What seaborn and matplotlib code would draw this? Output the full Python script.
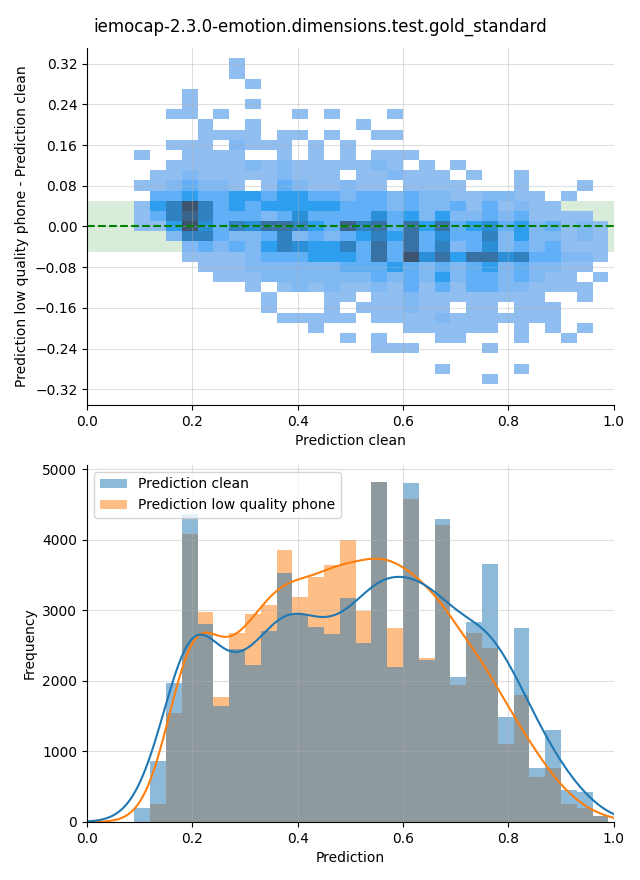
import numpy as np
import pandas as pd
import matplotlib
matplotlib.use("Agg")
import matplotlib.pyplot as plt
import seaborn as sns

title = "iemocap-2.3.0-emotion.dimensions.test.gold_standard"

# common prediction bins
bin_start, bin_width, n_bins = 0.09, 0.03, 30

# bottom panel: frequency per prediction bin
clean_counts = [199, 865, 1972, 4369, 2809, 1645, 2454, 2227, 2709, 3532,
                2950, 2766, 2667, 3177, 2539, 4823, 2199, 4809, 2298, 4298,
                2057, 2837, 3660, 1489, 2752, 766, 1305, 454, 426, 90]
phone_counts = [0, 255, 1546, 4085, 2979, 1773, 2681, 2950, 3078, 3858,
                3191, 3475, 3645, 4000, 2993, 4815, 2752, 4582, 2326, 4213,
                1943, 2681, 2468, 1106, 1801, 638, 766, 255, 199, 80]
series_names = ["Prediction clean", "Prediction low quality phone"]

# top panel: density level (0 = empty .. 9 = densest) per cell,
# rows from the highest difference bin down to the lowest,
# columns follow the prediction bins above
diff_start, diff_width = -0.3095, 0.02
diff_grid = [
    "000000100000000000000000000000",
    "000000100000000000000000000000",
    "000000010000000000000000000000",
    "000100000000000000000000000000",
    "000100010000000000000000000000",
    "001101000010100010000000000000",
    "000010010000001000000000000000",
    "000011110110100110000000000000",
    "001110211101010000000000000000",
    "100111100101010111000000000000",
    "001111121211111210101000000000",
    "011211111211101121110100100000",
    "112322101321121101111000100010",
    "033433443443323323221122110100",
    "146963434444433323223131211000",
    "136863332353333534242232311110",
    "114953657764386737473453423121",
    "002663223623234647353362422121",
    "000232324654463737362352323111",
    "000111123334443739574775633221",
    "000011122222233343232342322110",
    "000001112222222323242332321101",
    "000000010121211213131332211110",
    "000000001000110112111111110010",
    "000000001000101112110110111000",
    "000000000111110111121111111000",
    "000000000001000001111110101010",
    "000000000000010100011000100100",
    "000000000000000111000010000000",
    "000000000000000000000000000000",
    "000000000000000000010000100000",
    "000000000000000000000010000000",
]
# relative count for each density level
level_counts = [0, 1, 1.5, 2.3, 3.6, 4.8, 5.9, 7.1, 8.2, 9.5]

x_edges = [bin_start + bin_width * k for k in range(n_bins + 1)]
n_rows = len(diff_grid)
y_edges = [diff_start + diff_width * k for k in range(n_rows + 1)]

cx, cy, cw = [], [], []
for i, row in enumerate(diff_grid):
    r = n_rows - 1 - i
    for c, ch in enumerate(row):
        if ch != "0":
            cx.append(bin_start + (c + 0.5) * bin_width)
            cy.append(diff_start + (r + 0.5) * diff_width)
            cw.append(level_counts[int(ch)])

centers = bin_start + (np.arange(n_bins) + 0.5) * bin_width
df = pd.DataFrame({
    "Prediction": np.concatenate([centers, centers]),
    "count": clean_counts + phone_counts,
    "series": [series_names[0]] * n_bins + [series_names[1]] * n_bins,
})

fig, (ax1, ax2) = plt.subplots(2, 1, figsize=(6.4, 8.8), dpi=100)
fig.subplots_adjust(left=0.136, right=0.959, top=0.9455, bottom=0.066, hspace=0.168)

# ---- top panel
ax1.axhspan(-0.05, 0.05, color="green", alpha=0.15, lw=0)
sns.histplot(x=cx, y=cy, weights=cw, bins=[x_edges, y_edges], ax=ax1)
ax1.axhline(0, color="green", linestyle="--", lw=1.5)
ax1.set_xlim(0, 1)
ax1.set_ylim(-0.351, 0.351)
ax1.set_yticks(np.linspace(-0.32, 0.32, 9))
ax1.set_xlabel("Prediction clean")
ax1.set_ylabel("Prediction low quality phone - Prediction clean")
ax1.grid(True, alpha=0.4)

# ---- bottom panel
sns.histplot(data=df, x="Prediction", weights="count", hue="series",
             hue_order=series_names, bins=x_edges, kde=True,
             kde_kws=dict(bw_adjust=0.4, cut=3), linewidth=0, ax=ax2)
ax2.set_xlim(0, 1)
ax2.set_xlabel("Prediction")
ax2.set_ylabel("Frequency")
ax2.grid(True, alpha=0.4)
sns.move_legend(ax2, "upper left", title=None)

sns.despine(fig=fig)
fig.suptitle(title, fontsize=12, y=0.98)
fig.savefig("out.png", dpi=100)
